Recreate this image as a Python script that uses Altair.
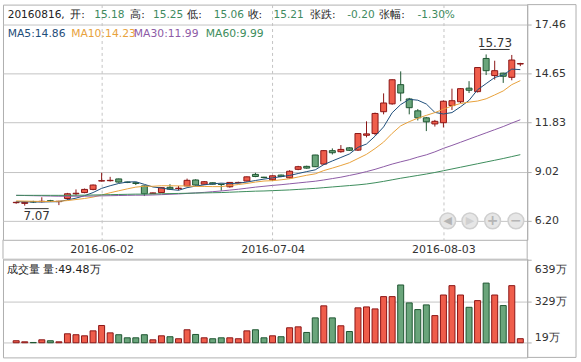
import altair as alt
import pandas as pd

idx = list(range(60))
opens = [7.24,7.20,7.30,7.30,7.35,7.30,7.48,7.75,7.82,8.00,
         8.48,8.50,8.60,8.42,8.38,8.20,7.76,7.82,8.12,8.05,
         8.20,8.54,8.30,8.38,8.30,8.15,8.38,8.48,8.86,8.70,
         8.55,8.82,8.66,9.15,9.32,9.97,9.45,10.22,10.16,10.38,
         10.25,11.10,11.20,12.45,12.90,14.00,13.18,12.50,12.10,11.75,
         11.82,12.80,13.02,13.80,13.60,15.50,14.52,14.66,14.42,15.18]
highs = [7.30,7.30,7.35,7.55,7.40,7.35,7.80,8.00,8.05,8.28,
         8.95,8.72,8.62,8.44,8.40,8.22,7.82,8.12,8.30,8.20,
         8.62,8.58,8.48,8.40,8.32,8.42,8.44,8.74,8.95,8.72,
         8.80,8.85,9.10,9.35,9.36,9.98,10.25,10.35,10.54,10.42,
         11.22,11.90,12.40,13.50,14.30,14.76,13.24,12.60,12.15,11.98,
         13.10,13.77,13.80,14.20,15.00,15.73,15.37,14.68,15.70,15.25]
lows = [7.18,7.07,7.22,7.25,7.28,7.10,7.40,7.65,7.78,7.95,
        8.45,8.45,8.38,8.36,8.25,7.62,7.74,7.80,7.98,7.95,
        8.18,8.22,8.27,8.28,7.92,8.10,8.35,8.45,8.70,8.64,
        8.50,8.70,8.62,9.10,9.18,9.28,9.40,10.00,10.10,10.20,
        10.20,10.98,11.10,12.30,12.85,13.05,12.30,11.95,11.34,11.60,
        11.55,12.55,12.95,13.52,13.55,14.55,14.29,14.10,14.25,15.06]
closes = [7.26,7.26,7.28,7.32,7.33,7.32,7.75,7.78,8.00,8.25,
          8.50,8.52,8.42,8.40,8.34,7.75,7.80,8.10,8.02,8.07,
          8.52,8.25,8.44,8.30,8.28,8.40,8.40,8.72,8.74,8.68,
          8.78,8.74,9.04,9.30,9.22,9.30,10.22,10.10,10.29,10.24,
          11.20,11.18,12.35,12.95,14.28,13.52,12.68,12.10,11.87,11.90,
          13.05,13.08,13.77,13.68,14.98,14.80,14.80,14.48,15.41,15.21]
volumes = [34,26,21,41,34,26,86,79,71,108,
           148,93,79,56,56,79,41,71,64,49,
           116,81,56,49,56,56,49,108,116,56,
           71,64,131,138,96,205,295,205,146,103,
           280,287,272,364,364,451,317,267,302,222,
           376,446,376,284,334,465,376,297,446,49.48]
ma5 = [7.30,7.29,7.28,7.28,7.29,7.30,7.40,7.50,7.64,7.82,
       8.06,8.21,8.34,8.42,8.44,8.29,8.14,8.08,8.00,7.95,
       8.10,8.19,8.26,8.32,8.36,8.33,8.36,8.42,8.51,8.59,
       8.66,8.73,8.80,8.91,9.02,9.12,9.42,9.63,9.83,10.03,
       10.41,10.60,11.05,11.58,12.39,12.86,13.16,13.11,12.89,12.41,
       12.32,12.40,12.73,13.10,13.71,14.06,14.41,14.55,14.89,14.86]
ma10 = [7.34,7.33,7.32,7.31,7.31,7.32,7.36,7.42,7.48,7.56,
        7.68,7.81,7.92,8.03,8.13,8.18,8.18,8.21,8.21,8.20,
        8.20,8.17,8.17,8.16,8.16,8.22,8.28,8.34,8.42,8.48,
        8.50,8.55,8.61,8.71,8.81,8.89,9.08,9.22,9.37,9.53,
        9.77,10.01,10.34,10.71,11.21,11.64,11.88,12.08,12.24,12.40,
        12.59,12.78,12.92,13.00,13.06,13.19,13.41,13.64,14.00,14.23]
ma30 = [7.66,7.65,7.64,7.63,7.62,7.61,7.61,7.61,7.61,7.62,
        7.63,7.64,7.65,7.66,7.67,7.67,7.68,7.70,7.72,7.74,
        7.77,7.80,7.83,7.87,7.91,7.96,8.01,8.07,8.13,8.18,
        8.23,8.27,8.32,8.37,8.42,8.47,8.54,8.62,8.70,8.80,
        8.90,9.02,9.15,9.30,9.45,9.58,9.70,9.85,9.98,10.15,
        10.35,10.52,10.70,10.88,11.06,11.24,11.42,11.60,11.80,11.99]
ma60 = [7.66,7.66,7.66,7.66,7.66,7.66,7.66,7.67,7.67,7.68,
        7.69,7.70,7.71,7.72,7.73,7.73,7.74,7.75,7.76,7.77,
        7.78,7.79,7.80,7.81,7.82,7.84,7.86,7.88,7.90,7.91,
        7.93,7.95,7.97,8.00,8.03,8.06,8.10,8.14,8.18,8.22,
        8.26,8.31,8.38,8.46,8.55,8.64,8.72,8.80,8.88,8.97,
        9.07,9.17,9.27,9.37,9.47,9.57,9.67,9.77,9.88,9.99]
tick_idx = [10, 30, 50]
tick_labels = ["2016-06-02", "2016-07-04", "2016-08-03"]
price_ticks = [6.20, 9.02, 11.83, 14.65, 17.46]
vol_ticks = [19, 329, 639]
ma_names = ["MA5", "MA10", "MA30", "MA60"]
ma_colors = ["#1f4e7a", "#e8a23c", "#8d5ba6", "#3d8d5c"]

FONT = "DejaVu Sans"
RED_F, RED_S = "#ef5d4b", "#8c1616"
GRN_F, GRN_S = "#6aa57b", "#1f5632"

df = pd.DataFrame({"i": idx, "o": opens, "h": highs, "l": lows, "c": closes, "v": volumes})
df["dir"] = ["up" if c >= o else "down" for o, c in zip(opens, closes)]
ma_df = pd.DataFrame({"i": idx * 4, "val": ma5 + ma10 + ma30 + ma60,
                      "s": sum([[n] * 60 for n in ma_names], [])})

xs = alt.Scale(domain=[-0.96, 59.22], nice=False, zero=False)
ps = alt.Scale(domain=[5.114, 18.584], nice=False, zero=False)
vs = alt.Scale(domain=[-90.5, 647.2], nice=False, zero=False)
fill_s = alt.Scale(domain=["up", "down"], range=[RED_F, GRN_F])
stroke_s = alt.Scale(domain=["up", "down"], range=[RED_S, GRN_S])

label_expr = "[" + ",".join('"%s"' % t for t in tick_labels) + "][indexof([" + \
    ",".join(str(t) for t in tick_idx) + "], datum.value)]"

x_price = alt.X("i:Q", scale=xs, title=None,
                axis=alt.Axis(values=tick_idx, labelExpr=label_expr, grid=True,
                              gridDash=[3, 3], gridColor="#c4c4c4", ticks=False,
                              domain=False, labelFont=FONT, labelFontSize=11,
                              labelColor="#333333", labelPadding=4))
y_price_axis = alt.Axis(orient="right", values=price_ticks, format=".2f", grid=True,
                        gridColor="#c4c4c4", domainColor="#b0b0b0", tickColor="#b0b0b0",
                        tickSize=4, labelFont=FONT, labelFontSize=11, labelColor="#333333",
                        labelPadding=3, title=None)

base = alt.Chart(df)
wick = base.mark_rule(strokeWidth=1).encode(
    x=x_price,
    y=alt.Y("l:Q", scale=ps, axis=y_price_axis),
    y2="h:Q",
    stroke=alt.Stroke("dir:N", scale=stroke_s, legend=None))
body = base.mark_bar(width=6, strokeWidth=1).encode(
    x=alt.X("i:Q", scale=xs),
    y=alt.Y("o:Q", scale=ps),
    y2="c:Q",
    fill=alt.Fill("dir:N", scale=fill_s, legend=None),
    stroke=alt.Stroke("dir:N", scale=stroke_s, legend=None))
lines = alt.Chart(ma_df).mark_line(strokeWidth=1).encode(
    x=alt.X("i:Q", scale=xs),
    y=alt.Y("val:Q", scale=ps),
    color=alt.Color("s:N", scale=alt.Scale(domain=ma_names, range=ma_colors), legend=None),
    detail="s:N")

# max / min markers
hi_i = highs.index(max(highs))
lo_i = lows.index(min(lows))
ext = pd.DataFrame({"i": [hi_i, lo_i], "p": [highs[hi_i], lows[lo_i]],
                    "t": ["%.2f" % highs[hi_i], "%.2f" % lows[lo_i]]})
ext["x1"] = [hi_i - 0.7, lo_i]
ext["x2"] = [hi_i + 2.75, lo_i + 2.8]
ext["xc"] = (ext["x1"] + ext["x2"]) / 2
hi_line = alt.Chart(ext.iloc[[0]]).mark_rule(color="#333333", yOffset=-5).encode(
    x=alt.X("x1:Q", scale=xs), x2="x2:Q", y=alt.Y("p:Q", scale=ps))
lo_line = alt.Chart(ext.iloc[[1]]).mark_rule(color="#333333", yOffset=3).encode(
    x=alt.X("x1:Q", scale=xs), x2="x2:Q", y=alt.Y("p:Q", scale=ps))
hi_txt = alt.Chart(ext.iloc[[0]]).mark_text(font=FONT, fontSize=12, color="#333333",
                                            dy=-11, baseline="middle").encode(
    x=alt.X("xc:Q", scale=xs), y=alt.Y("p:Q", scale=ps), text="t:N")
lo_txt = alt.Chart(ext.iloc[[1]]).mark_text(font=FONT, fontSize=12, color="#333333",
                                            dy=10, baseline="middle").encode(
    x=alt.X("xc:Q", scale=xs), y=alt.Y("p:Q", scale=ps), text="t:N")

# header text
hdr_text = ["20160816,", "开:", "15.18", "高:", "15.25", "低:", "15.06", "收:", "15.21",
            "张跌:", "-0.20", "张幅:", "-1.30%"]
hdr_x = [4.7, 67.5, 91.5, 127.6, 150.5, 185, 211.5, 245.4, 271.5, 308, 345.5, 377.6, 416]
hdr_col = ["#222222", "#222222", "#3e8a5e", "#222222", "#3e8a5e", "#222222", "#3e8a5e",
           "#222222", "#3e8a5e", "#222222", "#3e8a5e", "#222222", "#3e8a5e"]
ma_txt = ["MA5:%.2f" % ma5[-1], "MA10:%.2f" % ma10[-1], "MA30:%.2f" % ma30[-1],
          "MA60:%.2f" % ma60[-1]]
ma_x = [4.7, 68.4, 131.3, 203.5]
hdr_layers = []
for t, xx, cc in zip(hdr_text, hdr_x, hdr_col):
    hdr_layers.append(alt.Chart(df.iloc[[0]]).mark_text(
        text=t, font=FONT, fontSize=10.6, color=cc, align="left", baseline="middle").encode(
        x=alt.value(xx), y=alt.value(10.5)))
for t, xx, cc in zip(ma_txt, ma_x, ma_colors):
    hdr_layers.append(alt.Chart(df.iloc[[0]]).mark_text(
        text=t, font=FONT, fontSize=10.8, color=cc, align="left", baseline="middle").encode(
        x=alt.value(xx), y=alt.value(29)))

# navigation buttons
btn_x = [446.3, 468.5, 491.3, 514.7]
btn_glyph = ["◀", "▶", "+", "−"]
btn_layers = []
for k, (bx, g) in enumerate(zip(btn_x, btn_glyph)):
    btn_layers.append(alt.Chart(df.iloc[[0]]).mark_point(
        shape="circle", filled=True, size=250, fill="#e6e6e6", stroke="#cfcfcf",
        strokeWidth=1.5, opacity=1).encode(x=alt.value(bx), y=alt.value(217)))
    btn_layers.append(alt.Chart(df.iloc[[0]]).mark_text(
        text=g, font=FONT, fontSize=11 if k < 2 else 14, fontWeight="bold",
        color="#b5b5b5" if k != 1 else "#d0d0d0", align="center", baseline="middle").encode(
        x=alt.value(bx), y=alt.value(217.5)))

# frame pieces outside plot area
frame = [
    alt.Chart(df.iloc[[0]]).mark_rule(color="#b0b0b0").encode(
        x=alt.value(526), x2=alt.value(575), y=alt.value(0)),
    alt.Chart(df.iloc[[0]]).mark_rule(color="#b0b0b0").encode(
        x=alt.value(575), y=alt.value(0), y2=alt.value(354)),
    alt.Chart(df.iloc[[0]]).mark_rule(color="#b0b0b0").encode(
        x=alt.value(526), y=alt.value(236), y2=alt.value(255)),
    alt.Chart(df.iloc[[0]]).mark_rule(color="#b0b0b0").encode(
        x=alt.value(0), y=alt.value(236), y2=alt.value(255)),
]

price = alt.layer(wick, body, lines, hi_line, lo_line, hi_txt, lo_txt,
                  *hdr_layers, *btn_layers, *frame).properties(width=526, height=236)

vol_bars = base.mark_bar(width=6, strokeWidth=1).encode(
    x=alt.X("i:Q", scale=xs, axis=None),
    y=alt.Y("v:Q", scale=vs, axis=alt.Axis(
        orient="right", values=vol_ticks, labelExpr="datum.value + '万'", grid=True,
        gridColor="#c4c4c4", domainColor="#b0b0b0", tickColor="#b0b0b0", tickSize=4,
        labelFont=FONT, labelFontSize=11, labelColor="#333333", labelPadding=3,
        labelBaseline={"expr": "datum.value == %d ? 'top' : (datum.value == %d ? 'bottom' : 'middle')"
                       % (vol_ticks[-1], vol_ticks[0])},
        labelOffset={"expr": "datum.value == %d ? 4 : 0" % vol_ticks[-1]},
        title=None)),
    y2=alt.datum(19),
    fill=alt.Fill("dir:N", scale=fill_s, legend=None),
    stroke=alt.Stroke("dir:N", scale=stroke_s, legend=None))
vol_label = alt.Chart(df.iloc[[0]]).mark_text(
    text="成交量 量:%.2f万" % volumes[-1], font=FONT, fontSize=11, color="#222222",
    align="left", baseline="middle").encode(x=alt.value(4), y=alt.value(11))
vol_frame = alt.Chart(df.iloc[[0]]).mark_rule(color="#b0b0b0").encode(
    x=alt.value(526), x2=alt.value(575), y=alt.value(99))
volume = alt.layer(vol_bars, vol_label, vol_frame).properties(width=526, height=99)

chart = alt.vconcat(price, volume, spacing=19, bounds="flush").resolve_scale(
    fill="shared", stroke="shared").properties(
    padding={"left": 2, "top": 3, "right": 4, "bottom": 5},
    background="white").configure_view(stroke="#b0b0b0", strokeWidth=1)

chart.save("out.html", embed_options={"renderer": "svg", "actions": False})
